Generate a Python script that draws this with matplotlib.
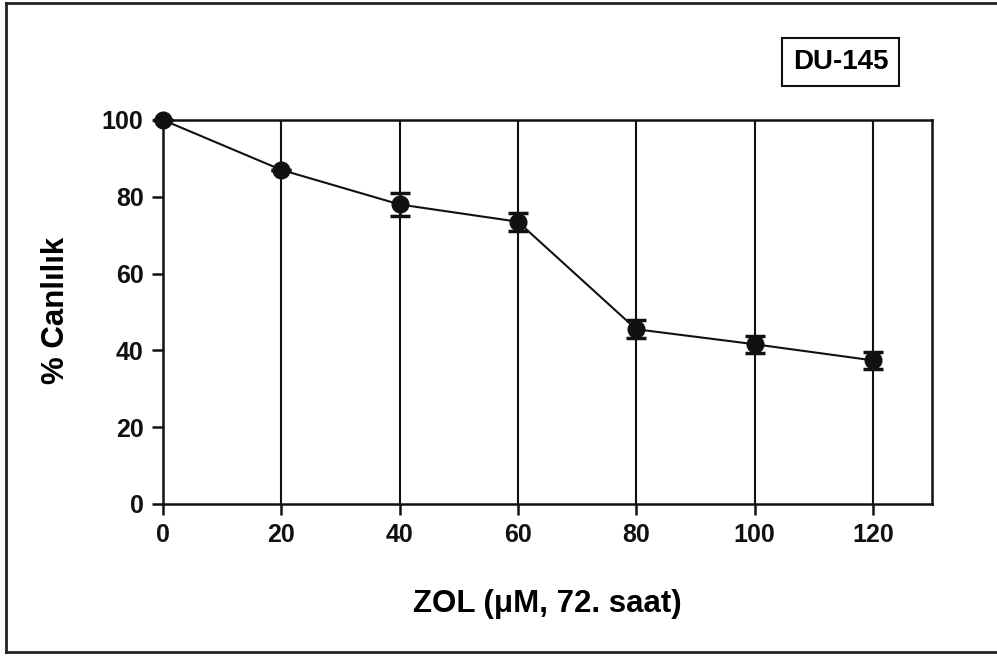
import matplotlib.pyplot as plt
from matplotlib.lines import Line2D

# ZOL concentration (uM) vs viability, DU-145, 72 h
doses = [0, 20, 40, 60, 80, 100, 120]
viability = [100, 87, 78, 73.5, 45.5, 41.6, 37.4]
errors = [0, 0, 2.9, 2.4, 2.3, 2.2, 2.3]
x_ticks = [0, 20, 40, 60, 80, 100, 120]
y_ticks = [0, 20, 40, 60, 80, 100]

plt.rcParams['font.family'] = ['Liberation Sans', 'DejaVu Sans']
plt.rcParams['font.weight'] = 'bold'

fig = plt.figure(figsize=(9.97, 6.57), dpi=100)
ax = fig.add_axes([0.1635, 0.2329, 0.9348 - 0.1635, 0.8174 - 0.2329])

ink = '#111111'

# vertical grid lines at each dose
for xt in x_ticks[1:]:
    ax.axvline(xt, color=ink, lw=1.5, zorder=1)

ax.errorbar(doses, viability, yerr=errors, color=ink, lw=1.5, marker='o',
            markersize=12, capsize=7, capthick=2.5, elinewidth=2, zorder=3,
            clip_on=False)

ax.set_xlim(0, 130)
ax.set_ylim(0, 100)
ax.set_xticks(x_ticks)
ax.set_yticks(y_ticks)
for s in ax.spines.values():
    s.set_linewidth(1.8)
    s.set_color(ink)
ax.tick_params(direction='out', length=8, width=1.8, labelsize=18, colors=ink, pad=6)
for lbl in ax.get_xticklabels() + ax.get_yticklabels():
    lbl.set_fontweight('bold')

ax.set_xlabel('ZOL (\u03bcM, 72. saat)', fontsize=22.5, fontweight='bold', va='center')
ax.xaxis.set_label_coords(0.5, -0.26)
ax.set_ylabel('% Canlılık', fontsize=22.5, fontweight='bold', va='center')
ax.yaxis.set_label_coords(-0.139, 0.505)

fig.text(0.8430, 0.9056, 'DU-145', fontsize=20, fontweight='bold', ha='center', va='center',
         bbox=dict(boxstyle='square,pad=0.4', fc='white', ec=ink, lw=1.5))

# outer frame
fig.add_artist(Line2D([6 / 997, 6 / 997], [5 / 657, 1 - 3 / 657], color='#222222', lw=2))
fig.add_artist(Line2D([6 / 997, 1.0], [1 - 3 / 657, 1 - 3 / 657], color='#222222', lw=2))
fig.add_artist(Line2D([6 / 997, 1.0], [5 / 657, 5 / 657], color='#222222', lw=2))

fig.savefig('out.png', dpi=100)
